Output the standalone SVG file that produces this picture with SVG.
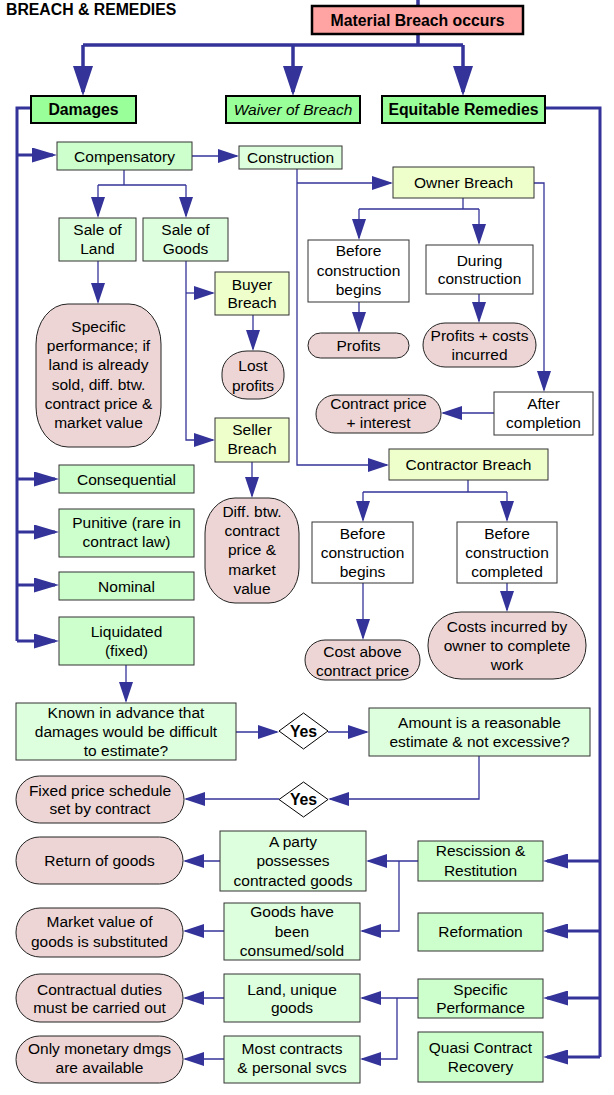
<svg xmlns="http://www.w3.org/2000/svg" width="614" height="1095" viewBox="0 0 614 1095">
<style>
text{font-family:"Liberation Sans",Arial,sans-serif;font-size:15.5px;fill:#000;text-anchor:middle}
.b{font-weight:bold;font-size:15.8px}
.i{font-style:italic}
.tl{text-anchor:start}
.top{fill:#99ff99;stroke:#000;stroke-width:2}
.mb{fill:#ffa3a3;stroke:#000;stroke-width:2.5}
.g1{fill:#ccffcc;stroke:#333;stroke-width:1}
.g2{fill:#ddffdd;stroke:#333;stroke-width:1}
.y{fill:#eeffcc;stroke:#333;stroke-width:1}
.w{fill:#fff;stroke:#333;stroke-width:1}
.o{fill:#edd5d5;stroke:#222;stroke-width:1}
.d{fill:#fff;stroke:#000;stroke-width:1}
.k{fill:none;stroke:#333399;stroke-width:3.5}
.s{fill:none;stroke:#333399;stroke-width:3}
.t{fill:none;stroke:#333399;stroke-width:1.3}
</style>
<defs>
<marker id="ab" markerUnits="userSpaceOnUse" markerWidth="30" markerHeight="20" refX="26" refY="10" orient="auto"><path d="M0,0 L30,10 L0,20 z" fill="#333399"/></marker>
<marker id="as" markerUnits="userSpaceOnUse" markerWidth="25" markerHeight="15" refX="21" refY="7.5" orient="auto"><path d="M0,0 L25,7.5 L0,15 z" fill="#333399"/></marker>
<marker id="at" markerUnits="userSpaceOnUse" markerWidth="21" markerHeight="14" refX="19" refY="7" orient="auto"><path d="M0,0 L21,7 L0,14 z" fill="#333399"/></marker>
</defs>

<text id="title" class="b tl" x="6" y="15">BREACH &amp; REMEDIES</text>

<g id="connectors">
<path class="k" d="M418,0 V6 M418,34 V45 M83,45 H463"/>
<path class="k" d="M83,45 V92" marker-end="url(#ab)"/>
<path class="k" d="M293,45 V92" marker-end="url(#ab)"/>
<path class="k" d="M463,45 V92" marker-end="url(#ab)"/>
<path class="s" d="M31,108 H17 V641"/>
<path class="s" d="M17,155 H53" marker-end="url(#as)"/>
<path class="s" d="M17,479 H55" marker-end="url(#as)"/>
<path class="s" d="M17,532 H55" marker-end="url(#as)"/>
<path class="s" d="M17,585 H55" marker-end="url(#as)"/>
<path class="s" d="M17,641 H55" marker-end="url(#as)"/>
<path class="s" d="M545,108 H600 V1057"/>
<path class="s" d="M600,861 H547" marker-end="url(#as)"/>
<path class="s" d="M600,931 H547" marker-end="url(#as)"/>
<path class="s" d="M600,998 H547" marker-end="url(#as)"/>
<path class="s" d="M600,1057 H547" marker-end="url(#as)"/>
<path class="t" d="M192,156 H237" marker-end="url(#at)"/>
<path class="t" d="M124,170 V185 M98,185 H186"/>
<path class="t" d="M98,185 V216" marker-end="url(#at)"/>
<path class="t" d="M186,185 V216" marker-end="url(#at)"/>
<path class="t" d="M98,261 V302" marker-end="url(#at)"/>
<path class="t" d="M186,261 V440 H213" marker-end="url(#at)"/>
<path class="t" d="M186,293 H213" marker-end="url(#at)"/>
<path class="t" d="M253,315 V349" marker-end="url(#at)"/>
<path class="t" d="M252,462 V496" marker-end="url(#at)"/>
<path class="t" d="M297,169 V465 H387" marker-end="url(#at)"/>
<path class="t" d="M297,183 H391" marker-end="url(#at)"/>
<path class="t" d="M463,198 V209 M359,209 H479"/>
<path class="t" d="M359,209 V238" marker-end="url(#at)"/>
<path class="t" d="M479,209 V243" marker-end="url(#at)"/>
<path class="t" d="M359,302 V331" marker-end="url(#at)"/>
<path class="t" d="M479,294 V321" marker-end="url(#at)"/>
<path class="t" d="M534,183 H544 V390" marker-end="url(#at)"/>
<path class="t" d="M494,413 H443" marker-end="url(#at)"/>
<path class="t" d="M468,480 V492 M363,492 H507"/>
<path class="t" d="M363,492 V520" marker-end="url(#at)"/>
<path class="t" d="M507,492 V520" marker-end="url(#at)"/>
<path class="t" d="M363,583 V638" marker-end="url(#at)"/>
<path class="t" d="M507,583 V610" marker-end="url(#at)"/>
<path class="t" d="M126,665 V701" marker-end="url(#at)"/>
<path class="t" d="M236,732 H277" marker-end="url(#at)"/>
<path class="t" d="M328,732 H367" marker-end="url(#at)"/>
<path class="t" d="M479,756 V799 H330" marker-end="url(#at)"/>
<path class="t" d="M279,799 H186" marker-end="url(#at)"/>
<path class="t" d="M418,861 H368" marker-end="url(#at)"/>
<path class="t" d="M399,861 V931 H362" marker-end="url(#at)"/>
<path class="t" d="M220,861 H185" marker-end="url(#at)"/>
<path class="t" d="M224,931 H185" marker-end="url(#at)"/>
<path class="t" d="M418,998 H362" marker-end="url(#at)"/>
<path class="t" d="M397,998 V1059 H362" marker-end="url(#at)"/>
<path class="t" d="M224,998 H185" marker-end="url(#at)"/>
<path class="t" d="M224,1059 H185" marker-end="url(#at)"/>
</g>

<g id="material"><rect class="mb" x="312" y="6" width="211" height="28"/><text class="b" x="417.5" y="25.5">Material Breach occurs</text></g>
<g id="damages"><rect class="top" x="31" y="96" width="105" height="27"/><text class="b" x="83.5" y="114.5">Damages</text></g>
<g id="waiver"><rect class="top" x="226" y="96" width="134" height="27"/><text class="i" x="293" y="114.5">Waiver of Breach</text></g>
<g id="equitable"><rect class="top" x="382" y="96" width="163" height="27"/><text class="b" x="463.5" y="114.5">Equitable Remedies</text></g>

<g id="compensatory"><rect class="g1" x="57" y="142" width="135" height="28"/><text x="124.5" y="161.5">Compensatory</text></g>
<g id="construction"><rect class="g2" x="239" y="146" width="103" height="23"/><text x="290.5" y="163">Construction</text></g>
<g id="saleland"><rect class="g2" x="59" y="218" width="77" height="43"/><text x="97.5" y="234.5">Sale of</text><text x="97.5" y="253.5">Land</text></g>
<g id="salegoods"><rect class="g2" x="143" y="218" width="85" height="43"/><text x="185.5" y="234.5">Sale of</text><text x="185.5" y="253.5">Goods</text></g>
<g id="buyer"><rect class="y" x="215" y="272" width="74" height="43"/><text x="252" y="289.5">Buyer</text><text x="252" y="308">Breach</text></g>
<g id="specific-land"><rect class="o" x="36" y="304" width="125" height="143" rx="32" ry="40"/>
<text x="98.5" y="332">Specific</text><text x="98.5" y="351.2">performance; if</text><text x="98.5" y="370.4">land is already</text><text x="98.5" y="389.6">sold, diff. btw.</text><text x="98.5" y="408.8">contract price &amp;</text><text x="98.5" y="428">market value</text></g>
<g id="lostprofits"><rect class="o" x="222" y="351" width="62" height="48" rx="25" ry="22"/><text x="253" y="370.5">Lost</text><text x="253" y="390.5">profits</text></g>
<g id="seller"><rect class="y" x="215" y="418" width="74" height="44"/><text x="252" y="435">Seller</text><text x="252" y="454">Breach</text></g>
<g id="diff"><rect class="o" x="205" y="498" width="94" height="105" rx="30" ry="35"/>
<text x="252" y="517">Diff. btw.</text><text x="252" y="536.2">contract</text><text x="252" y="555.4">price &amp;</text><text x="252" y="574.6">market</text><text x="252" y="593.8">value</text></g>

<g id="owner"><rect class="y" x="393" y="167" width="141" height="31"/><text x="463.5" y="188">Owner Breach</text></g>
<g id="owner-before"><rect class="w" x="308" y="240" width="101" height="62"/><text x="358.5" y="256.3">Before</text><text x="358.5" y="275.8">construction</text><text x="358.5" y="295">begins</text></g>
<g id="owner-during"><rect class="w" x="426" y="245" width="107" height="49"/><text x="479.5" y="265.5">During</text><text x="479.5" y="284">construction</text></g>
<g id="profits"><rect class="o" x="308" y="333" width="101" height="25" rx="12.5"/><text x="358.5" y="350.5">Profits</text></g>
<g id="profitscosts"><rect class="o" x="423" y="323" width="113" height="44" rx="22"/><text x="479.5" y="341">Profits + costs</text><text x="479.5" y="360.3">incurred</text></g>
<g id="after"><rect class="w" x="494" y="392" width="99" height="43"/><text x="543.5" y="409">After</text><text x="543.5" y="428.2">completion</text></g>
<g id="contractprice"><rect class="o" x="316" y="395" width="125" height="38" rx="19"/><text x="378.5" y="409">Contract price</text><text x="378.5" y="428">+ interest</text></g>

<g id="contractor"><rect class="y" x="389" y="449" width="159" height="31"/><text x="468.5" y="470">Contractor Breach</text></g>
<g id="contr-before"><rect class="w" x="312" y="522" width="101" height="61"/><text x="362.5" y="539">Before</text><text x="362.5" y="558">construction</text><text x="362.5" y="576.8">begins</text></g>
<g id="contr-completed"><rect class="w" x="457" y="522" width="100" height="61"/><text x="507" y="539">Before</text><text x="507" y="558">construction</text><text x="507" y="576.8">completed</text></g>
<g id="costabove"><rect class="o" x="305" y="640" width="115" height="40" rx="20"/><text x="362.5" y="656.5">Cost above</text><text x="362.5" y="675.5">contract price</text></g>
<g id="costsincurred"><rect class="o" x="428" y="612" width="158" height="67" rx="33"/><text x="507" y="632.2">Costs incurred by</text><text x="507" y="651.2">owner to complete</text><text x="507" y="670">work</text></g>

<g id="consequential"><rect class="g1" x="59" y="465" width="135" height="28"/><text x="126.5" y="484.5">Consequential</text></g>
<g id="punitive"><rect class="g1" x="59" y="509" width="135" height="48"/><text x="126.5" y="528">Punitive (rare in</text><text x="126.5" y="546.8">contract law)</text></g>
<g id="nominal"><rect class="g1" x="59" y="572" width="135" height="28"/><text x="126.5" y="591.5">Nominal</text></g>
<g id="liquidated"><rect class="g1" x="59" y="617" width="135" height="48"/><text x="126.5" y="637.2">Liquidated</text><text x="126.5" y="656">(fixed)</text></g>

<g id="known"><rect class="g2" x="16" y="703" width="220" height="57"/><text x="126" y="717.8">Known in advance that</text><text x="126" y="736.8">damages would be difficult</text><text x="126" y="755.8">to estimate?</text></g>
<g id="yes1"><path class="d" d="M279,731 L303.5,713 L328,731 L303.5,749 z"/><text class="b" x="303.5" y="736.5">Yes</text></g>
<g id="amount"><rect class="g2" x="369" y="708" width="221" height="48"/><text x="479.5" y="727.8">Amount is a reasonable</text><text x="479.5" y="746.8">estimate &amp; not excessive?</text></g>
<g id="yes2"><path class="d" d="M279,799.5 L303.5,782 L328,799.5 L303.5,817 z"/><text class="b" x="303.5" y="805">Yes</text></g>
<g id="fixedprice"><rect class="o" x="16" y="776" width="168" height="47" rx="23.5"/><text x="100" y="795.5">Fixed price schedule</text><text x="100" y="814">set by contract</text></g>

<g id="rescission"><rect class="g1" x="418" y="841" width="125" height="40"/><text x="480.5" y="856.2">Rescission &amp;</text><text x="480.5" y="875.5">Restitution</text></g>
<g id="reformation"><rect class="g1" x="418" y="913" width="125" height="38"/><text x="480.5" y="936.5">Reformation</text></g>
<g id="specperf"><rect class="g1" x="418" y="979" width="125" height="39"/><text x="480.5" y="994.8">Specific</text><text x="480.5" y="1012.8">Performance</text></g>
<g id="quasi"><rect class="g1" x="418" y="1032" width="125" height="50"/><text x="480.5" y="1052.8">Quasi Contract</text><text x="480.5" y="1071.5">Recovery</text></g>

<g id="aparty"><rect class="g2" x="220" y="831" width="146" height="60"/><text x="293" y="847.2">A party</text><text x="293" y="866.3">possesses</text><text x="293" y="885.5">contracted goods</text></g>
<g id="goodsconsumed"><rect class="g2" x="224" y="903" width="136" height="57"/><text x="292" y="917.2">Goods have</text><text x="292" y="936.5">been</text><text x="292" y="955.7">consumed/sold</text></g>
<g id="returngoods"><rect class="o" x="16" y="837" width="167" height="47" rx="23.5"/><text x="99.5" y="865.5">Return of goods</text></g>
<g id="marketvalue"><rect class="o" x="16" y="908" width="167" height="49" rx="24"/><text x="99.5" y="927.2">Market value of</text><text x="99.5" y="946.5">goods is substituted</text></g>

<g id="landunique"><rect class="g2" x="224" y="974" width="136" height="48"/><text x="292" y="994.8">Land, unique</text><text x="292" y="1013.2">goods</text></g>
<g id="mostcontracts"><rect class="g2" x="224" y="1036" width="136" height="47"/><text x="292" y="1053.8">Most contracts</text><text x="292" y="1073.2">&amp; personal svcs</text></g>
<g id="contractual"><rect class="o" x="16" y="974" width="167" height="48" rx="24"/><text x="99.5" y="994.8">Contractual duties</text><text x="99.5" y="1013.2">must be carried out</text></g>
<g id="onlymonetary"><rect class="o" x="16" y="1036" width="167" height="47" rx="23.5"/><text x="99.5" y="1053.8">Only monetary dmgs</text><text x="99.5" y="1073.2">are available</text></g>
</svg>
